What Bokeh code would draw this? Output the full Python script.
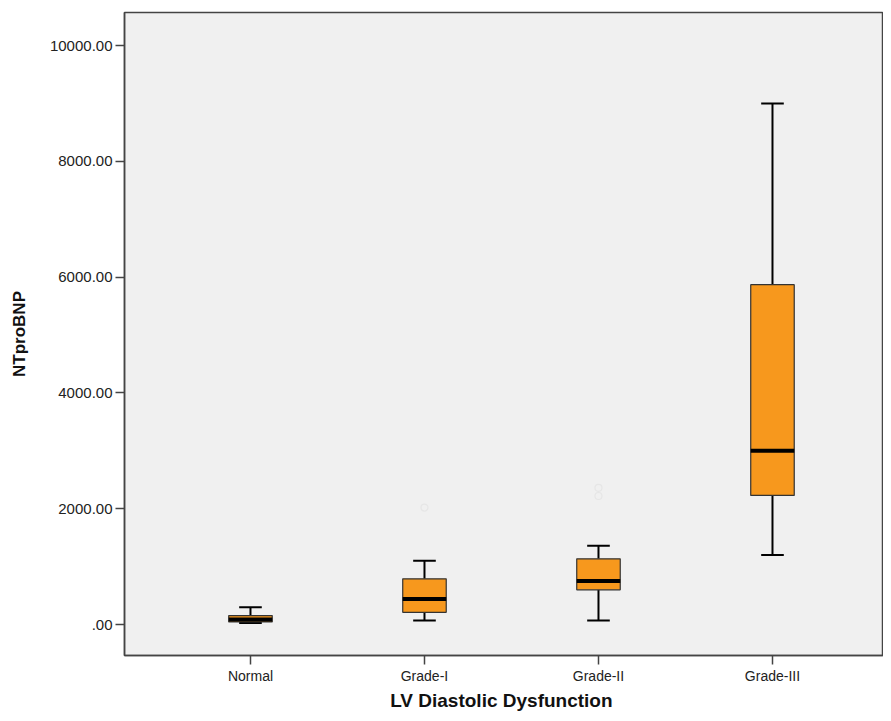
from bokeh.plotting import figure
from bokeh.models import FixedTicker, Range1d, ColumnDataSource
from bokeh.embed import file_html
from bokeh.resources import INLINE

categories = ["Normal", "Grade-I", "Grade-II", "Grade-III"]
lower_whisker = [25, 70, 70, 1200]
q1 = [45, 210, 600, 2230]
median = [85, 440, 750, 3000]
q3 = [155, 790, 1135, 5870]
upper_whisker = [300, 1100, 1360, 9000]
outlier_cat = ["Grade-I", "Grade-II", "Grade-II"]
outlier_val = [2020, 2220, 2360]
y_ticks = [0, 2000, 4000, 6000, 8000, 10000]
y_tick_labels = [".00", "2000.00", "4000.00", "6000.00", "8000.00", "10000.00"]

FONT = "Liberation Sans"
pos = {c: i + 1 for i, c in enumerate(categories)}
xs = [pos[c] for c in categories]

src = ColumnDataSource(dict(x=xs, lo=lower_whisker, q1=q1, med=median, q3=q3, hi=upper_whisker,
                            xl=[x - 0.25 / 2 for x in xs], xr=[x + 0.25 / 2 for x in xs],
                            cl=[x - 0.065 for x in xs], cr=[x + 0.065 for x in xs]))

p = figure(width=883, height=713, output_backend="svg", toolbar_location=None,
           x_range=Range1d(0.276, 4.638), y_range=Range1d(-535, 10570),
           min_border_left=124, min_border_top=12, min_border_right=0, min_border_bottom=58)

p.background_fill_color = "#f0f0f0"
p.border_fill_color = "white"
p.outline_line_color = "#444444"
p.outline_line_width = 1.5
p.xgrid.visible = False
p.ygrid.visible = False

# whiskers
p.segment(x0="x", y0="q3", x1="x", y1="hi", source=src, line_color="black", line_width=2)
p.segment(x0="x", y0="lo", x1="x", y1="q1", source=src, line_color="black", line_width=2)
p.segment(x0="cl", y0="hi", x1="cr", y1="hi", source=src, line_color="black", line_width=2)
p.segment(x0="cl", y0="lo", x1="cr", y1="lo", source=src, line_color="black", line_width=2)
# boxes
p.vbar(x="x", width=0.25, bottom="q1", top="q3", source=src,
       fill_color="#f7981d", line_color="#333333", line_width=1.2)
# medians
p.segment(x0="xl", y0="med", x1="xr", y1="med", source=src, line_color="black", line_width=4)
# outliers (faint)
p.scatter([pos[c] for c in outlier_cat], outlier_val, size=7, marker="circle",
          fill_color=None, line_color="#e6e6e6", line_width=1.2)

p.xaxis.ticker = FixedTicker(ticks=xs)
p.xaxis.major_label_overrides = {x: c for x, c in zip(xs, categories)}
p.yaxis.ticker = FixedTicker(ticks=y_ticks)
p.yaxis.major_label_overrides = {t: l for t, l in zip(y_ticks, y_tick_labels)}

for ax in (p.xaxis, p.yaxis):
    ax.minor_tick_line_color = None
    ax.major_tick_in = 0
    ax.major_tick_out = 9
    ax.axis_line_color = "#444444"
    ax.axis_line_width = 1.5
    ax.major_tick_line_color = "#444444"
    ax.major_tick_line_width = 1.5
    ax.major_label_text_font = FONT
    ax.major_label_text_color = "#222222"
    ax.axis_label_text_font = FONT
    ax.axis_label_text_font_style = "bold"
    ax.axis_label_text_color = "#111111"

p.xaxis.major_label_text_font_size = "14px"
p.yaxis.major_label_text_font_size = "15px"
p.xaxis.axis_label = "LV  Diastolic Dysfunction"
p.xaxis.axis_label_text_font_size = "19px"
p.xaxis.axis_label_standoff = 3
p.xaxis.major_label_standoff = 3
p.yaxis.axis_label = "NTproBNP"
p.yaxis.axis_label_text_font_size = "17px"
p.yaxis.axis_label_standoff = 18
p.yaxis.major_label_standoff = 3

open("out.html", "w").write(file_html(p, INLINE))
